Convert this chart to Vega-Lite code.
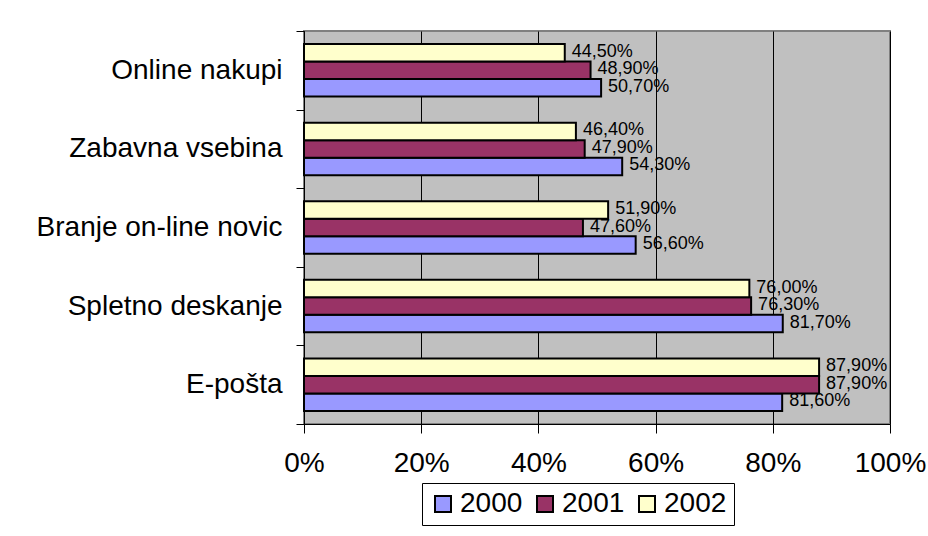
{
  "$schema": "https://vega.github.io/schema/vega-lite/v6.json",
  "autosize": "none",
  "width": 586,
  "height": 393,
  "padding": {"left": 304, "top": 31, "right": 38, "bottom": 112},
  "background": "white",
  "config": {
    "locale": {"number": {"decimal": ",", "thousands": ".", "grouping": [3], "currency": ["", " €"]}},
    "font": "Liberation Sans",
    "view": {"fill": "#C0C0C0", "stroke": "#808080", "strokeWidth": 2}
  },
  "data": {
    "values": [
      {"cat": "Online nakupi", "year": "2000", "v": 0.507},
      {"cat": "Online nakupi", "year": "2001", "v": 0.489},
      {"cat": "Online nakupi", "year": "2002", "v": 0.445},
      {"cat": "Zabavna vsebina", "year": "2000", "v": 0.543},
      {"cat": "Zabavna vsebina", "year": "2001", "v": 0.479},
      {"cat": "Zabavna vsebina", "year": "2002", "v": 0.464},
      {"cat": "Branje on-line novic", "year": "2000", "v": 0.566},
      {"cat": "Branje on-line novic", "year": "2001", "v": 0.476},
      {"cat": "Branje on-line novic", "year": "2002", "v": 0.519},
      {"cat": "Spletno deskanje", "year": "2000", "v": 0.817},
      {"cat": "Spletno deskanje", "year": "2001", "v": 0.763},
      {"cat": "Spletno deskanje", "year": "2002", "v": 0.760},
      {"cat": "E-pošta", "year": "2000", "v": 0.816},
      {"cat": "E-pošta", "year": "2001", "v": 0.879},
      {"cat": "E-pošta", "year": "2002", "v": 0.879}
    ]
  },
  "encoding": {
    "y": {
      "field": "cat", "type": "nominal",
      "sort": ["Online nakupi", "Zabavna vsebina", "Branje on-line novic", "Spletno deskanje", "E-pošta"],
      "scale": {"paddingInner": 0, "paddingOuter": 0},
      "axis": {
        "title": null, "tickBand": "extent", "grid": false,
        "labelFontSize": 28, "labelColor": "black", "labelPadding": 14,
        "tickSize": 8, "tickColor": "black", "domainColor": "black", "labelLimit": 400
      }
    },
    "yOffset": {"field": "year", "type": "nominal", "sort": ["2002", "2001", "2000"], "scale": {"paddingInner": 0, "paddingOuter": 0.745}},
    "x": {
      "field": "v", "type": "quantitative",
      "scale": {"domain": [0, 1], "nice": false},
      "axis": {
        "title": null, "format": "%", "values": [0, 0.2, 0.4, 0.6, 0.8, 1],
        "grid": true, "gridColor": "black", "gridOpacity": 1, "gridWidth": 1,
        "labelFontSize": 28, "labelColor": "black", "labelPadding": 16,
        "tickSize": 9, "tickColor": "black", "domainColor": "black", "labelFlush": false
      }
    }
  },
  "layer": [
    {
      "mark": {"type": "bar", "stroke": "black", "strokeWidth": 2},
      "encoding": {
        "color": {
          "field": "year", "type": "nominal",
          "scale": {"domain": ["2000", "2001", "2002"], "range": ["#9999FF", "#993366", "#FFFFCC"]},
          "legend": {
            "title": null, "orient": "none", "direction": "horizontal",
            "legendX": 118, "legendY": 452,
            "strokeColor": "black", "padding": 7, "fillColor": "white",
            "symbolType": "square", "symbolSize": 256, "symbolStrokeColor": "black", "symbolStrokeWidth": 2,
            "labelFontSize": 28, "labelColor": "black", "labelOffset": 3, "columnPadding": 8
          }
        }
      }
    },
    {
      "mark": {"type": "text", "align": "left", "dx": 7, "dy": -1, "fontSize": 18, "color": "black"},
      "encoding": {
        "text": {"field": "v", "type": "quantitative", "format": ".2%"}
      }
    }
  ]
}
